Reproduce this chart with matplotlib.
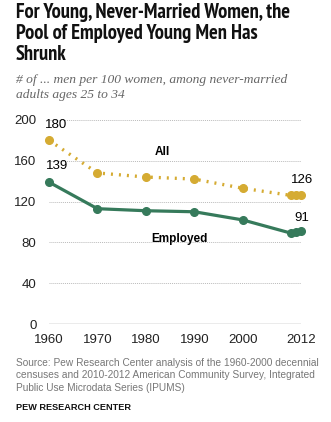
import matplotlib.pyplot as plt
from matplotlib import font_manager

years = [1960, 1970, 1980, 1990, 2000, 2010, 2011, 2012]
all_men = [180, 148, 144, 142, 133, 126, 126, 126]
employed_men = [139, 113, 111, 110, 102, 89, 90, 91]
xtick_years = [1960, 1970, 1980, 1990, 2000, 2012]
ytick_vals = [0, 40, 80, 120, 160, 200]

gold = '#D5AB32'
green = '#367A5B'

plt.rcParams['font.family'] = ['Liberation Sans', 'DejaVu Sans']

# look for a condensed bold face for the headline
cond = [f for f in font_manager.fontManager.ttflist
        if ('Condensed' in f.fname or 'Narrow' in f.fname) and 'Bold' in f.fname
        and 'Oblique' not in f.fname and 'Italic' not in f.fname]
cond.sort(key=lambda f: 'Narrow' not in f.fname)

fig = plt.figure(figsize=(3.31, 4.22), dpi=100)
ax = fig.add_axes([0.148, 0.232, 0.761, 0.484])

ax.plot(years, all_men, color=gold, linestyle=(0, (0.6, 1.8)), linewidth=2.4,
        marker='o', markersize=5.5, clip_on=False, zorder=3)
ax.plot(years, employed_men, color=green, linestyle='-', linewidth=2.3,
        marker='o', markersize=5.5, clip_on=False, zorder=3)

ax.set_xlim(1960, 2012)
ax.set_ylim(0, 200)
ax.set_xticks(xtick_years)
ax.set_xticklabels([str(y) for y in xtick_years])
ax.set_yticks(ytick_vals)
ax.tick_params(length=0, labelsize=9.5, colors='#222222')
ax.tick_params(axis='x', pad=7)
ax.tick_params(axis='y', pad=9)
for s in ax.spines.values():
    s.set_visible(False)
for v in ytick_vals[1:]:
    ax.axhline(v, color='#bbbbbb', linewidth=0.7, linestyle=(0, (1, 1)), zorder=1)
ax.axhline(0, color='#999999', linewidth=1.0, zorder=1)

# value labels at the ends
ax.annotate(str(all_men[0]), (years[0], all_men[0]), xytext=(5, 7),
            textcoords='offset points', ha='center', va='bottom', fontsize=9.5)
ax.annotate(str(employed_men[0]), (years[0], employed_men[0]), xytext=(6, 7),
            textcoords='offset points', ha='center', va='bottom', fontsize=9.5)
ax.annotate(str(all_men[-1]), (years[-1], all_men[-1]), xytext=(1, 7),
            textcoords='offset points', ha='center', va='bottom', fontsize=9.5)
ax.annotate(str(employed_men[-1]), (years[-1], employed_men[-1]), xytext=(1, 5),
            textcoords='offset points', ha='center', va='bottom', fontsize=9.5)

ax.text(1983.5, 169, 'All', fontsize=8.5, fontweight='bold', ha='center', va='center')
ax.text(1987, 83, 'Employed', fontsize=8.5, fontweight='bold', ha='center', va='center')

if cond:
    title_fp = font_manager.FontProperties(fname=cond[0].fname, size=14.8)
else:
    title_fp = font_manager.FontProperties(family='Liberation Sans', weight='bold', size=11)
fig.text(0.048, 0.993, 'For Young, Never-Married Women, the\nPool of Employed Young Men Has\nShrunk',
         fontproperties=title_fp, ha='left', va='top', linespacing=1.15, color='#111111')
fig.text(0.048, 0.824, '# of ... men per 100 women, among never-married\nadults ages 25 to 34',
         fontsize=9.7, style='italic', family='Liberation Serif', ha='left', va='top',
         color='#666666', linespacing=1.25)

fig.text(0.048, 0.152, 'Source: Pew Research Center analysis of the 1960-2000 decennial\n'
         'censuses and 2010-2012 American Community Survey, Integrated\n'
         'Public Use Microdata Series (IPUMS)',
         fontsize=7.3, ha='left', va='top', color='#777777', linespacing=1.3)
fig.text(0.048, 0.045, 'PEW RESEARCH CENTER', fontsize=6.6, fontweight='bold',
         ha='left', va='top', color='#111111')

fig.savefig('out.png', dpi=100)
